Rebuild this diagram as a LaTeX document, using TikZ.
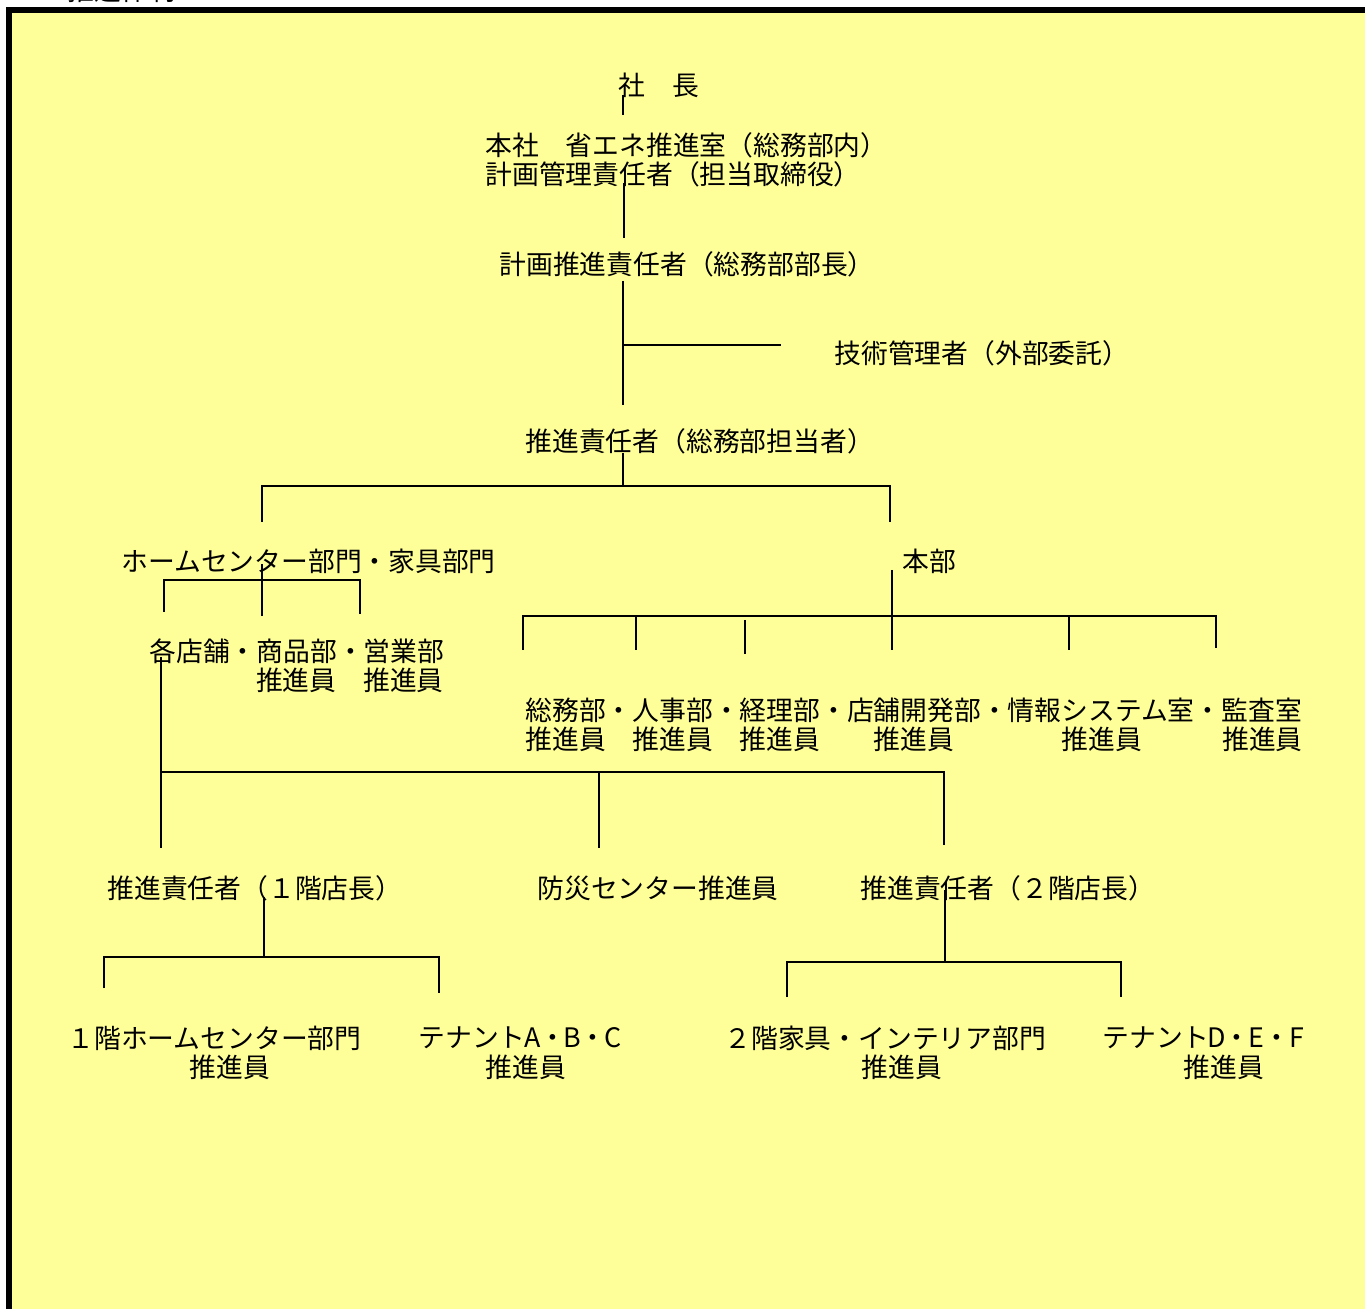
\documentclass[tikz,border=0pt]{standalone}
\usepackage{fontspec}
\setmainfont{Noto Sans CJK JP}
\definecolor{bgyellow}{HTML}{FFFF99}
\newcommand{\hwl}[1]{\makebox[6.7pt]{#1}}
\begin{document}
\begin{tikzpicture}[x=0.5pt,y=-0.5pt,
  lbl/.style={anchor=west,inner sep=0pt,font=\fontsize{13.4pt}{14.5pt}\selectfont},
  conn/.style={line width=1.1pt}]
\useasboundingbox (0,0) rectangle (1365,1309);
\begin{scope}
\clip (0,0) rectangle (1365,1309);
\fill[white] (0,0) rectangle (1365,1309);
\draw[line width=3pt,fill=bgyellow] (9,10) rectangle (1420,1360);
\node[lbl,anchor=base west] (title) at (14,1) {１　推進体制};

% texts
\node[lbl] (shacho) at (618,85) {社　長};
\node[lbl] (honshaA) at (485,145) {本社　省エネ推進室（総務部内）};
\node[lbl] (honshaB) at (485,174) {計画管理責任者（担当取締役）};
\node[lbl] (keikaku) at (499,264) {計画推進責任者（総務部部長）};
\node[lbl] (gijutsu) at (834,353) {技術管理者（外部委託）};
\node[lbl] (suishin) at (525,441) {推進責任者（総務部担当者）};
\node[lbl] (homec) at (121,561) {ホームセンター部門・家具部門};
\node[lbl] (honbu) at (902,561) {本部};
\node[lbl] (kakutenA) at (149,651) {各店舗・商品部・営業部};
\node[lbl,anchor=east] (kakutenB) at (444,680) {推進員　推進員};
\node[lbl] (hqA) at (525,710) {総務部・人事部・経理部・店舗開発部・情報システム室・監査室};
\node[lbl] (hqB) at (525,739) {推進員　推進員　推進員　　推進員　　　　推進員　　　推進員};
\node[lbl] (tencho1) at (107,888) {推進責任者（１階店長）};
\node[lbl] (bosai) at (537,888) {防災センター推進員};
\node[lbl] (tencho2) at (860,888) {推進責任者（２階店長）};
\node[lbl] (floor1A) at (67,1038) {１階ホームセンター部門};
\node[lbl] (floor1B) at (189,1067) {推進員};
\node[lbl] (tenantAA) at (418,1038) {テナント\hwl{A}・\hwl{B}・\hwl{C}};
\node[lbl] (tenantAB) at (485,1067) {推進員};
\node[lbl] (floor2A) at (724,1038) {２階家具・インテリア部門};
\node[lbl] (floor2B) at (861,1067) {推進員};
\node[lbl] (tenantDA) at (1102,1038) {テナント\hwl{D}・\hwl{E}・\hwl{F}};
\node[lbl] (tenantDB) at (1183,1067) {推進員};

% junction coordinates
\coordinate (a1) at (623,95);  \coordinate (a2) at (623,115);
\coordinate (b1) at (624,183); \coordinate (b2) at (624,238);
\coordinate (c1) at (623,281); \coordinate (c2) at (623,405);
\coordinate (cj) at (623,345); \coordinate (ce) at (781,345);
\coordinate (d1) at (623,453); \coordinate (dj) at (623,486);
\coordinate (dlb) at (262,522); \coordinate (dlt) at (262,486);
\coordinate (drt) at (890,486); \coordinate (drb) at (890,522);
\coordinate (e1) at (262,564); \coordinate (e2) at (262,616);
\coordinate (elb) at (164,612); \coordinate (elt) at (164,580);
\coordinate (ert) at (360,580); \coordinate (erb) at (360,614);
\coordinate (f1) at (161,657); \coordinate (f2) at (161,848);
\coordinate (fj) at (161,772); \coordinate (frt) at (944,772);
\coordinate (frb) at (944,845); \coordinate (fmt) at (599,772);
\coordinate (fmb) at (599,848);
\coordinate (g1) at (892,570); \coordinate (g2) at (892,650);
\coordinate (glb) at (523,650); \coordinate (glt) at (523,616);
\coordinate (grt) at (1216,616); \coordinate (grb) at (1216,648);
\coordinate (g2t) at (636,616); \coordinate (g2b) at (636,650);
\coordinate (g3t) at (745,620); \coordinate (g3b) at (745,654);
\coordinate (g5t) at (1069,616); \coordinate (g5b) at (1069,650);
\coordinate (h1) at (264,897); \coordinate (h2) at (264,957);
\coordinate (hlb) at (104,988); \coordinate (hlt) at (104,957);
\coordinate (hrt) at (439,957); \coordinate (hrb) at (439,993);
\coordinate (i1) at (945,890); \coordinate (i2) at (945,962);
\coordinate (ilb) at (787,997); \coordinate (ilt) at (787,962);
\coordinate (irt) at (1121,962); \coordinate (irb) at (1121,997);

% connectors
\draw[conn] (a1) -- (a2);
\draw[conn] (b1) -- (b2);
\draw[conn] (c1) -- (c2);
\draw[conn] (cj) -- (ce);
\draw[conn] (d1) -- (dj);
\draw[conn] (dlb) -- (dlt) -- (drt) -- (drb);
\draw[conn] (e1) -- (e2);
\draw[conn] (elb) -- (elt) -- (ert) -- (erb);
\draw[conn] (f1) -- (f2);
\draw[conn] (fj) -- (frt) -- (frb);
\draw[conn] (fmt) -- (fmb);
\draw[conn] (g1) -- (g2);
\draw[conn] (glb) -- (glt) -- (grt) -- (grb);
\draw[conn] (g2t) -- (g2b);
\draw[conn] (g3t) -- (g3b);
\draw[conn] (g5t) -- (g5b);
\draw[conn] (h1) -- (h2);
\draw[conn] (hlb) -- (hlt) -- (hrt) -- (hrb);
\draw[conn] (i1) -- (i2);
\draw[conn] (ilb) -- (ilt) -- (irt) -- (irb);
\end{scope}
\end{tikzpicture}
\end{document}
